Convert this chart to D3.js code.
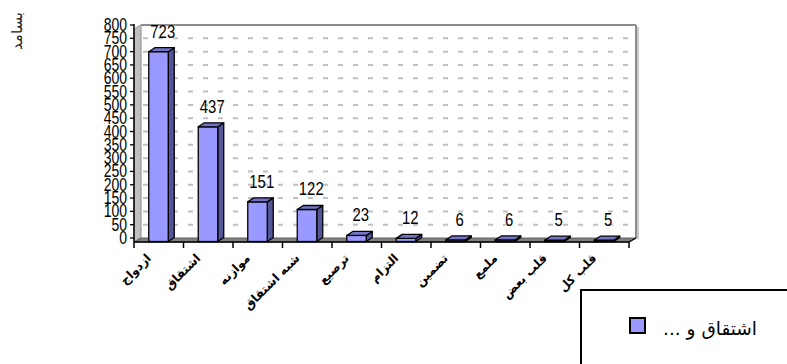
<!DOCTYPE html>
<html>
<head>
<meta charset="utf-8">
<script src="https://cdn.jsdelivr.net/npm/d3@7"></script>
<style>
  html, body { margin: 0; padding: 0; background: #fff; }
  svg { display: block; }
</style>
</head>
<body>
<svg id="chart" width="787" height="364"></svg>
<script>
// Figures of speech and their counts
const categories = ["ازدواج", "اشتقاق", "موازنه", "شبه اشتقاق", "ترصیع", "التزام", "تضمین", "ملمع", "قلب بعض", "قلب کل"];
const counts = [723, 437, 151, 122, 23, 12, 6, 6, 5, 5];
const yTicks = d3.range(0, 801, 50);
const seriesName = "اشتقاق و ...";
const axisTitle = "بسامد";

const svg = d3.select("#chart");

// 3D depth offset of the plot box
const depthX = 7, depthY = -4;
const left = 134, right = 629, floorY = 242;

const x = d3.scaleBand().domain(categories).range([left, right]).paddingInner(0).paddingOuter(0);
const yFront = d3.scaleLinear().domain([0, 800]).range([241.5, 31.5]);
const yBack = d3.scaleLinear().domain([0, 800]).range([238, 25]);

const NUM_FONT = "'Liberation Sans', Arial, sans-serif";
const AR_FONT = "'DejaVu Sans', 'Noto Sans', sans-serif";

// Back wall
const wallTop = yBack(800), wallBot = yBack(0);
svg.append("rect")
  .attr("x", left + depthX).attr("y", wallTop)
  .attr("width", right - left).attr("height", wallBot - wallTop)
  .attr("fill", "#fff");

// Dashed gridlines on the back wall
svg.append("g").selectAll("line")
  .data(yTicks.filter(d => d > 0 && d < 800))
  .join("line")
  .attr("x1", left + depthX + 2).attr("x2", right + depthX - 2)
  .attr("y1", d => yBack(d)).attr("y2", d => yBack(d))
  .attr("stroke", "#c0c0c0").attr("stroke-width", 2)
  .attr("stroke-dasharray", "5,10");

// Back wall border (top and right edge with shadow)
svg.append("line")
  .attr("x1", left + depthX).attr("x2", right + depthX)
  .attr("y1", wallTop).attr("y2", wallTop)
  .attr("stroke", "#8c8c8c").attr("stroke-width", 2);
svg.append("line")
  .attr("x1", right + depthX).attr("x2", right + depthX)
  .attr("y1", wallTop).attr("y2", wallBot)
  .attr("stroke", "#8c8c8c").attr("stroke-width", 2);
svg.append("line")
  .attr("x1", right + depthX + 2).attr("x2", right + depthX + 2)
  .attr("y1", wallTop + 2).attr("y2", wallBot + 1)
  .attr("stroke", "#c8c8c8").attr("stroke-width", 2);

// Left side wall
svg.append("polygon")
  .attr("points", [
    [left, floorY], [left, wallTop + 4], [left + depthX, wallTop], [left + depthX, wallBot]
  ].map(p => p.join(",")).join(" "))
  .attr("fill", "#c0c0c0").attr("stroke", "#8c8c8c").attr("stroke-width", 1);

// Floor
svg.append("polygon")
  .attr("points", [
    [left, floorY], [right, floorY], [right + depthX, wallBot], [left + depthX, wallBot]
  ].map(p => p.join(",")).join(" "))
  .attr("fill", "#808080").attr("stroke", "#606060").attr("stroke-width", 1);

// Bars as 3D columns
const barW = 19.5, bdx = 6, bdy = -4;
const bars = svg.append("g").selectAll("g")
  .data(categories.map((c, i) => ({ c, v: counts[i] })))
  .join("g");

bars.each(function(d) {
  const g = d3.select(this);
  const cx = x(d.c) + x.bandwidth() / 2;
  const x0 = cx - 10, x1 = x0 + barW;
  const yt = yFront(d.v), yb = yFront(0);
  const pts = a => a.map(p => p.join(",")).join(" ");
  // side face
  g.append("polygon")
    .attr("points", pts([[x1, yt], [x1 + bdx, yt + bdy], [x1 + bdx, yb + bdy], [x1, yb]]))
    .attr("fill", "#545499").attr("stroke", "#000").attr("stroke-width", 1.3).attr("stroke-linejoin", "round");
  // front face
  g.append("rect")
    .attr("x", x0).attr("y", yt).attr("width", barW).attr("height", yb - yt)
    .attr("fill", "#9999ff").attr("stroke", "#000").attr("stroke-width", 1.3);
  // top face
  g.append("polygon")
    .attr("points", pts([[x0, yt], [x1, yt], [x1 + bdx, yt + bdy], [x0 + bdx, yt + bdy]]))
    .attr("fill", "#7373c8").attr("stroke", "#000").attr("stroke-width", 1.3).attr("stroke-linejoin", "round");
});

// Value labels
svg.append("g").selectAll("text")
  .data(categories.map((c, i) => ({ c, v: counts[i] })))
  .join("text")
  .attr("transform", d => `translate(${x(d.c) + x.bandwidth() / 2 + 4},${yFront(d.v) - 14}) scale(0.85,1)`)
  .attr("text-anchor", "middle")
  .attr("font-family", NUM_FONT).attr("font-size", 17.5)
  .attr("fill", "#000")
  .text(d => d.v);

// Value axis
svg.append("line")
  .attr("x1", left).attr("x2", left).attr("y1", wallTop - 1).attr("y2", floorY)
  .attr("stroke", "#000").attr("stroke-width", 1.5);
const yAxis = svg.append("g");
yAxis.selectAll("line")
  .data(yTicks)
  .join("line")
  .attr("x1", left - 4).attr("x2", left)
  .attr("y1", d => yBack(d)).attr("y2", d => yBack(d))
  .attr("stroke", "#000").attr("stroke-width", 1.3);
yAxis.selectAll("text")
  .data(yTicks)
  .join("text")
  .attr("transform", d => `translate(127,${yBack(d) + 6}) scale(0.8,1)`)
  .attr("text-anchor", "end")
  .attr("font-family", NUM_FONT).attr("font-size", 17.5)
  .attr("fill", "#000")
  .text(d => d);

// Category axis
svg.append("line")
  .attr("x1", left).attr("x2", right).attr("y1", floorY).attr("y2", floorY)
  .attr("stroke", "#000").attr("stroke-width", 1.5);
svg.append("line")
  .attr("x1", right).attr("x2", right + depthX).attr("y1", floorY).attr("y2", wallBot)
  .attr("stroke", "#000").attr("stroke-width", 1.3);
const bounds = categories.map(c => x(c)).concat([right]);
svg.append("g").selectAll("line")
  .data(bounds)
  .join("line")
  .attr("x1", d => d).attr("x2", d => d)
  .attr("y1", floorY).attr("y2", floorY + 6)
  .attr("stroke", "#000").attr("stroke-width", 1.5);

svg.append("g").selectAll("text")
  .data(categories)
  .join("text")
  .attr("transform", d => `translate(${x(d) + x.bandwidth() / 2 - 7},${floorY + 17}) rotate(-45)`)
  .attr("text-anchor", "end")
  .attr("font-family", AR_FONT).attr("font-size", 12).attr("font-weight", "bold")
  .attr("fill", "#000")
  .text(d => d);

// Value axis title
svg.append("text")
  .attr("transform", "translate(22,31) rotate(-90)")
  .attr("text-anchor", "middle")
  .attr("font-family", AR_FONT).attr("font-size", 15)
  .attr("fill", "#222")
  .text(axisTitle);

// Legend
const legend = svg.append("g");
legend.append("rect")
  .attr("x", 581).attr("y", 290).attr("width", 260).attr("height", 120)
  .attr("fill", "#fff").attr("stroke", "#000").attr("stroke-width", 2);
legend.append("rect")
  .attr("x", 630).attr("y", 318).attr("width", 15).attr("height", 15)
  .attr("fill", "#9999ff").attr("stroke", "#000").attr("stroke-width", 2);
legend.append("text")
  .attr("x", 757).attr("y", 335)
  .attr("text-anchor", "end")
  .attr("font-family", AR_FONT).attr("font-size", 18.5)
  .attr("fill", "#000")
  .text(seriesName + "\u200F");
</script>
</body>
</html>
